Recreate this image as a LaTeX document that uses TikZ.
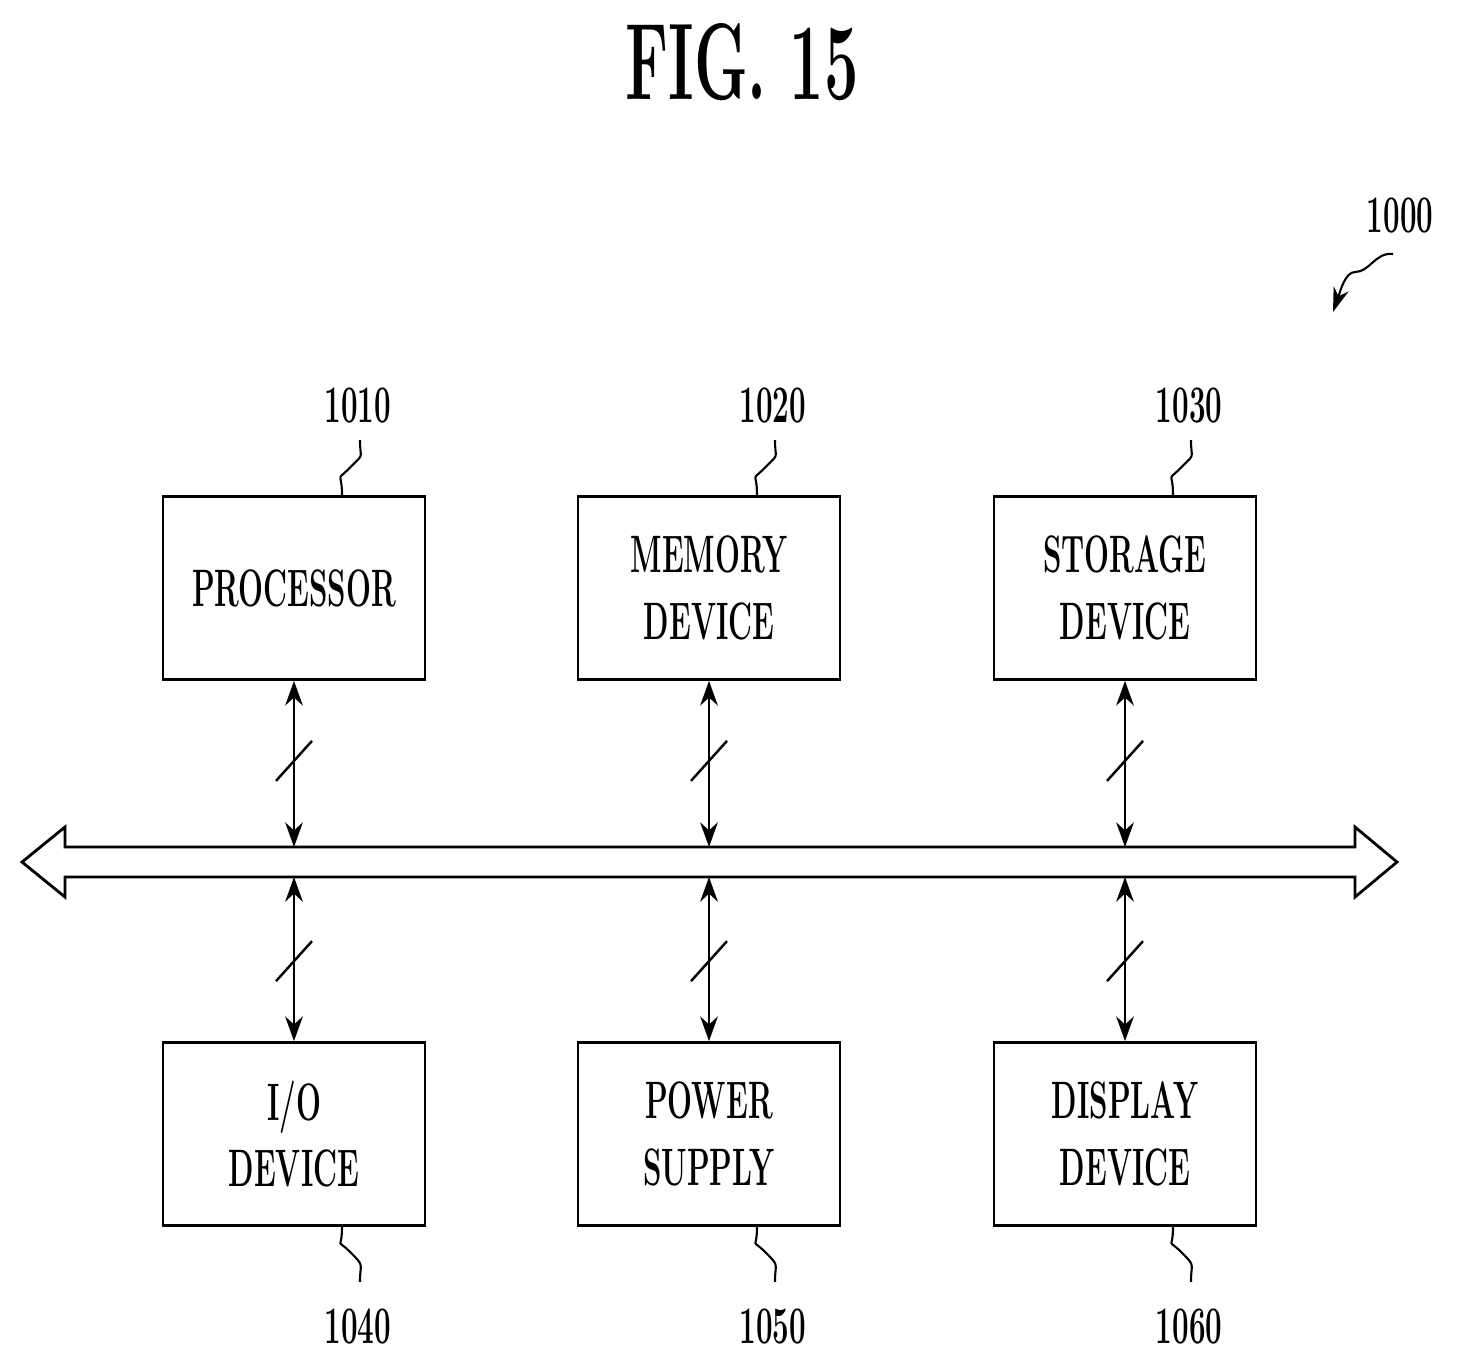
\documentclass[tikz,border=0pt]{standalone}
\usetikzlibrary{positioning,arrows.meta}
\newcommand{\narrow}[1]{\scalebox{0.56}[1]{#1}}
\tikzset{
  block/.style={draw, line width=1.6pt, minimum width=5.24cm, minimum height=3.66cm, align=center, font=\fontsize{30}{38}\selectfont\bfseries},
  reflabel/.style={font=\fontsize{30}{32}\selectfont\bfseries},
  link/.style={line width=1.6pt, <->, >={Stealth[length=14pt,width=10pt]}},
}
\begin{document}
\begin{tikzpicture}[x=0.02cm, y=-0.02cm]
\useasboundingbox (0,0) rectangle (1466,1367);

% Title
\node[font=\fontsize{62}{64}\selectfont\bfseries] (title) at (742,62) {\narrow{FIG. 15}};

% Blocks
\node[block] (proc) at (294,588) {\narrow{PROCESSOR}};
\node[block] (mem)  at (709,588) {\narrow{MEMORY}\\\narrow{DEVICE}};
\node[block] (stor) at (1125,588) {\narrow{STORAGE}\\\narrow{DEVICE}};
\node[block] (io)   at (294,1134) {\narrow{I/O}\\\narrow{DEVICE}};
\node[block] (pow)  at (709,1134) {\narrow{POWER}\\\narrow{SUPPLY}};
\node[block] (disp) at (1125,1134) {\narrow{DISPLAY}\\\narrow{DEVICE}};

% Bus
\draw[line width=1.6pt] (65,847) -- (1355,847) -- (1355,827) -- (1397,862) -- (1355,897) -- (1355,877)
  -- (65,877) -- (65,897) -- (22,862) -- (65,827) -- cycle;
\foreach \x/\n in {294/a,709/b,1125/c} {
  \coordinate (top\n) at (\x,847);
  \coordinate (bot\n) at (\x,877);
}

% Links to bus
\foreach \b/\n in {proc/a,mem/b,stor/c} {
  \draw[link] (\b.south) -- (top\n);
  \draw[line width=1.4pt] ([xshift=-0.36cm,yshift=-2.0cm]\b.south) -- ++(0.72cm,0.8cm);
}
\foreach \b/\n in {io/a,pow/b,disp/c} {
  \draw[link] (bot\n) -- (\b.north);
  \draw[line width=1.4pt] ([xshift=-0.36cm,yshift=1.2cm]\b.north) -- ++(0.72cm,0.8cm);
}

% Reference numerals
\foreach \b/\t in {proc/1010,mem/1020,stor/1030} {
  \node[reflabel] (l\t) at ([xshift=1.28cm,yshift=1.8cm]\b.north) {\narrow{\t}};
  \draw[line width=1.2pt] ([xshift=0.96cm]\b.north) .. controls +(0,0.5cm) and +(-0.3cm,-0.3cm) .. ++(0.16cm,0.55cm)
    .. controls +(0.3cm,0.3cm) and +(0,-0.4cm) .. ++(0.2cm,0.55cm);
}
\foreach \b/\t in {io/1040,pow/1050,disp/1060} {
  \node[reflabel] (l\t) at ([xshift=1.28cm,yshift=-2.0cm]\b.south) {\narrow{\t}};
  \draw[line width=1.2pt] ([xshift=0.96cm]\b.south) .. controls +(0,-0.5cm) and +(-0.3cm,0.3cm) .. ++(0.16cm,-0.5cm)
    .. controls +(0.3cm,-0.3cm) and +(0,0.4cm) .. ++(0.2cm,-0.6cm);
}
\node[reflabel] (l1000) at (1400,216) {\narrow{1000}};
\coordinate (tip1000) at (1333,312);
\draw[line width=1.2pt, -{Stealth[length=14pt,width=9pt]}] (1393,254) .. controls (1375,252) and (1370,272) .. (1355,272)
  .. controls (1345,272) and (1340,292) .. (tip1000);
\end{tikzpicture}
\end{document}
